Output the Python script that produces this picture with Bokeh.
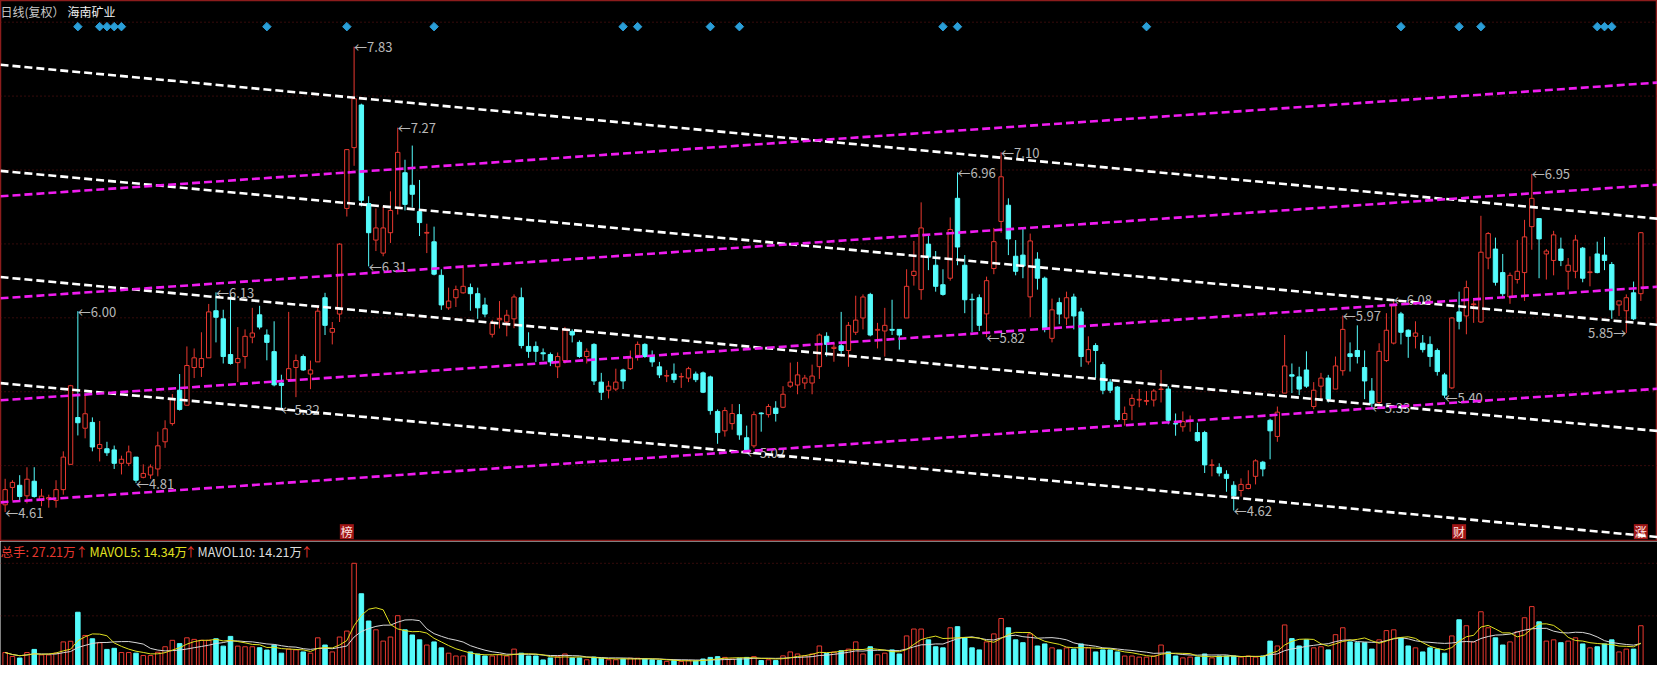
import numpy as np
import pandas as pd
from bokeh.plotting import figure
from bokeh.layouts import column
from bokeh.models import Range1d, Label, Span, ColumnDataSource
from bokeh.core.properties import value
from bokeh.embed import file_html
from bokeh.resources import INLINE

# ---------------- data ----------------
open_ = [4.66,4.78,4.795,4.722,4.823,4.69,4.70,4.69,4.765,4.94,5.264,5.19,5.23,5.05,5.048,5.04,4.947,4.947,4.99,4.85,
 4.866,4.908,5.096,5.222,5.453,5.349,5.61,5.61,5.677,6.003,5.947,5.70,5.644,5.686,5.82,5.975,5.835,5.72,5.503,5.526,
 5.61,5.686,5.565,5.649,6.093,5.854,5.98,6.711,7.132,7.427,6.745,6.492,6.402,6.543,6.711,6.958,6.871,6.689,6.54,6.48,
 6.248,6.023,6.093,6.127,6.163,6.121,6.043,5.84,5.94,5.925,5.947,6.093,5.756,5.756,5.712,5.70,5.615,5.658,5.86,5.784,
 5.686,5.77,5.509,5.453,5.461,5.593,5.602,5.694,5.77,5.691,5.615,5.551,5.565,5.545,5.537,5.565,5.573,5.545,5.306,5.172,
 5.222,5.284,5.124,5.068,5.295,5.284,5.329,5.335,5.481,5.489,5.503,5.503,5.616,5.826,5.742,5.761,5.728,5.854,5.953,6.116,
 5.868,5.863,5.874,5.874,5.953,6.247,6.149,6.464,6.318,6.183,6.228,6.781,6.318,6.082,6.093,5.981,6.295,6.621,6.733,6.38,
 6.388,6.099,6.36,6.228,5.812,6.059,5.953,6.098,5.995,5.649,5.762,5.63,5.509,5.475,5.25,5.349,5.385,5.376,5.385,5.458,
 5.461,5.222,5.2,5.242,5.16,5.16,4.933,4.919,4.871,4.795,4.759,4.773,4.857,4.955,5.245,5.133,5.433,5.56,5.545,5.593,
 5.34,5.481,5.537,5.461,5.588,5.705,5.728,5.61,5.447,5.368,5.658,5.779,5.981,5.868,5.826,5.779,5.77,5.728,5.559,5.469,
 5.995,5.967,6.045,5.925,6.368,6.43,6.267,6.099,6.219,6.267,6.585,6.641,6.396,6.351,6.43,6.276,6.276,6.436,6.267,6.396,
 6.388,6.323,6.043,6.003,6.127,6.121]
high = [4.84,4.83,4.865,4.92,4.92,4.77,4.73,4.83,5.03,5.49,6.00,5.42,5.265,5.24,5.096,5.07,5.0,5.07,4.99,4.94,
 4.94,5.166,5.245,5.427,5.565,5.756,5.742,5.854,6.05,6.13,6.01,6.116,5.89,5.874,6.023,6.037,5.874,5.93,5.56,5.995,
 5.70,5.70,5.658,6.03,6.127,5.925,6.47,7.12,7.83,7.436,6.795,6.711,6.725,6.829,7.27,7.048,7.146,6.908,6.605,6.585,
 6.29,6.163,6.177,6.318,6.191,6.163,6.093,5.94,6.07,6.009,6.116,6.163,5.854,5.79,5.742,5.714,5.714,5.891,5.874,5.798,
 5.742,5.778,5.573,5.517,5.602,5.602,5.728,5.79,5.778,5.728,5.649,5.593,5.638,5.573,5.615,5.582,5.582,5.554,5.32,5.335,
 5.357,5.357,5.208,5.306,5.30,5.357,5.377,5.481,5.644,5.649,5.559,5.63,5.846,5.854,5.78,5.995,5.925,6.107,6.116,6.127,
 5.919,6.023,6.079,5.874,6.29,6.486,6.753,6.52,6.416,6.29,6.649,6.96,6.388,6.121,6.116,6.239,6.576,7.10,6.781,6.492,
 6.57,6.537,6.408,6.239,6.087,6.093,6.135,6.121,6.023,5.826,5.778,5.649,5.53,5.481,5.34,5.425,5.461,5.447,5.461,5.593,
 5.481,5.292,5.306,5.278,5.228,5.172,4.975,4.947,4.899,4.823,4.843,4.899,4.975,4.964,5.256,5.34,5.835,5.638,5.615,5.722,
 5.509,5.573,5.559,5.686,5.97,5.784,5.902,5.728,5.537,5.778,5.986,6.08,5.995,5.874,5.93,5.835,5.826,5.742,5.573,5.958,
 6.135,6.211,6.079,6.66,6.548,6.509,6.396,6.267,6.492,6.632,6.95,6.641,6.43,6.556,6.509,6.368,6.528,6.444,6.379,6.481,
 6.514,6.34,6.071,6.116,6.205,6.548]
low = [4.61,4.69,4.69,4.67,4.71,4.65,4.64,4.64,4.73,4.94,5.14,5.12,5.03,4.96,4.998,4.908,4.87,4.928,4.81,4.843,
 4.84,4.857,5.054,5.208,5.312,5.349,5.537,5.545,5.677,5.784,5.638,5.63,5.51,5.602,5.778,5.874,5.66,5.48,5.32,5.526,
 5.405,5.587,5.46,5.649,5.835,5.77,5.925,6.655,7.006,6.725,6.31,6.416,6.38,6.472,6.669,6.697,6.717,6.52,6.402,6.248,
 6.009,6.009,6.029,6.121,6.003,5.947,5.958,5.818,5.88,5.826,5.882,5.742,5.677,5.649,5.658,5.62,5.537,5.638,5.784,5.677,
 5.638,5.489,5.385,5.396,5.447,5.461,5.593,5.658,5.677,5.615,5.537,5.509,5.503,5.469,5.509,5.509,5.433,5.284,5.082,5.132,
 5.18,5.11,5.02,5.054,5.166,5.264,5.236,5.329,5.469,5.425,5.461,5.425,5.531,5.686,5.65,5.686,5.615,5.835,5.874,5.826,
 5.742,5.686,5.835,5.734,5.953,6.177,6.079,6.284,6.135,6.107,6.211,6.318,5.986,5.854,5.863,5.82,6.256,6.543,6.388,6.248,
 6.228,5.958,6.149,5.854,5.784,5.91,5.902,5.874,5.615,5.63,5.537,5.425,5.433,5.236,5.208,5.245,5.335,5.349,5.34,5.368,
 5.217,5.138,5.166,5.166,5.096,4.88,4.857,4.857,4.75,4.62,4.717,4.767,4.801,4.857,4.975,5.096,5.433,5.433,5.419,5.469,
 5.321,5.391,5.368,5.461,5.554,5.582,5.638,5.391,5.33,5.349,5.649,5.77,5.77,5.677,5.742,5.714,5.615,5.554,5.40,5.461,
 5.874,5.84,5.919,5.919,6.29,6.177,6.088,6.051,6.191,6.071,6.425,6.228,6.219,6.248,6.312,6.149,6.228,6.2,6.172,6.262,
 6.284,5.947,5.967,5.85,5.938,6.071]
close = [4.765,4.815,4.717,4.837,4.717,4.72,4.71,4.765,4.99,5.484,5.228,5.29,5.06,5.077,5.02,4.947,4.975,5.026,4.83,4.877,
 4.922,5.068,5.186,5.39,5.32,5.624,5.677,5.672,5.995,5.958,5.686,5.638,5.672,5.826,5.849,5.89,5.784,5.49,5.486,5.602,
 5.658,5.593,5.593,6.0,5.902,5.88,6.464,7.118,7.47,6.767,6.543,6.576,6.576,6.697,7.099,6.739,6.809,6.613,6.545,6.256,
 6.043,6.07,6.149,6.172,6.121,6.023,5.98,5.919,5.95,5.972,6.098,5.762,5.722,5.722,5.705,5.649,5.686,5.868,5.835,5.686,
 5.722,5.517,5.439,5.481,5.509,5.517,5.677,5.77,5.686,5.649,5.559,5.554,5.526,5.548,5.602,5.526,5.439,5.312,5.16,5.312,
 5.292,5.144,5.04,5.284,5.29,5.34,5.292,5.425,5.509,5.559,5.537,5.551,5.835,5.77,5.75,5.728,5.902,5.938,6.098,5.835,
 5.874,5.902,5.868,5.835,6.172,6.276,6.576,6.374,6.172,6.116,6.565,6.444,6.079,6.079,5.902,6.211,6.481,6.93,6.5,6.276,
 6.312,6.486,6.228,5.874,6.009,5.98,6.093,5.967,5.686,5.734,5.728,5.453,5.453,5.25,5.292,5.396,5.39,5.382,5.447,5.461,
 5.245,5.219,5.236,5.245,5.104,4.936,4.936,4.88,4.843,4.722,4.801,4.801,4.964,4.908,5.172,5.301,5.621,5.55,5.461,5.481,
 5.453,5.537,5.391,5.621,5.874,5.686,5.686,5.517,5.363,5.722,5.868,6.037,5.854,5.826,5.849,5.734,5.686,5.582,5.419,5.953,
 5.93,6.163,6.05,6.408,6.537,6.2,6.121,6.248,6.276,6.514,6.781,6.5,6.416,6.528,6.351,6.318,6.492,6.228,6.272,6.267,
 6.351,6.009,6.071,6.093,5.947,6.543]
# volume, unit: 万手
volume = [10.1,7.6,6.6,10.1,12.1,8.6,8.6,9.7,16.9,17.3,35.8,21.0,18.9,16.3,12.1,12.8,10.1,10.1,9.7,8.2,
 8.2,10.3,13.8,17.9,15.8,19.5,18.5,17.9,17.9,18.9,14.2,20.4,14.2,13.8,13.8,13.2,11.7,14.8,9.7,12.3,
 11.8,10.5,9.7,19.5,14.9,10.5,20.0,23.8,67.0,47.6,30.2,24.6,17.4,20.0,33.6,24.6,21.3,18.2,14.9,16.9,
 13.1,9.7,7.9,7.9,10.5,9.2,7.9,7.9,8.7,7.9,12.3,9.7,7.9,7.9,5.4,6.7,7.5,9.2,6.7,6.7,
 5.5,7.2,6.5,5.5,5.5,6.0,6.5,6.5,6.0,5.5,5.0,4.5,5.0,4.5,5.0,4.8,6.0,7.0,7.5,7.0,
 6.0,6.5,7.0,7.5,5.0,5.5,5.0,8.0,10.5,9.2,8.0,9.2,14.3,9.5,10.5,11.3,12.3,16.9,9.2,13.8,
 8.7,9.7,11.8,9.2,20.7,25.1,25.1,18.2,13.8,13.1,25.9,26.6,19.5,13.1,11.8,16.9,22.0,31.8,25.9,18.2,
 16.4,22.0,14.3,15.6,13.1,11.8,13.1,12.3,15.6,13.1,10.5,11.8,11.8,10.5,7.9,7.9,7.2,7.2,7.9,14.9,
 10.5,7.9,6.7,7.2,7.2,9.2,6.7,7.9,7.9,7.9,7.2,7.9,7.2,7.9,17.4,14.3,27.7,19.0,14.3,18.2,
 13.1,13.8,11.8,21.5,25.9,16.9,16.4,16.4,12.3,18.2,24.1,24.6,19.5,14.3,13.1,10.5,13.1,12.3,9.7,20.7,
 31.0,27.2,16.9,36.1,25.9,19.5,14.9,16.9,23.3,32.3,39.4,29.7,17.4,18.2,16.4,17.4,19.5,15.6,13.1,13.8,
 15.6,18.2,10.5,12.3,12.3,27.21]

# channel lines: price at left edge / right edge of the view
white_left = [7.705, 6.971, 6.236, 5.502]
white_right = [6.640, 5.906, 5.171, 4.437]
magenta_left = [6.795, 6.089, 5.383, 4.677]
magenta_right = [7.582, 6.875, 6.169, 5.463]

# horizontal reference grid (price)
grid_prices = [8.0, 7.4885, 6.977, 6.4655, 5.954, 5.4425, 4.931]

# annotated extremes (candle indices)
high_marks = [10, 29, 48, 54, 131, 137, 184, 191, 210]
low_marks = [0, 18, 38, 50, 102, 135, 169, 188, 198]
low_marks_right = [223]

# event diamonds and tags
diamond_idx = [10, 13, 14, 15, 16, 36, 47, 59, 85, 87, 97, 101, 129, 131, 157, 192, 200, 203, 219, 220, 221]
tag_idx = [47, 200, 225]
tag_text = ["榜", "财", "涨"]

title_a = "日线(复权）"
title_b = "海南矿业"
vol_hdr = ["总手: 27.21万↑", "MAVOL5: 14.34万", "MAVOL10: 14.21万"]

# ---------------- styling ----------------
RED = "#e8382f"
CYAN = "#54fcfc"
GRIDC = "#6a1616"
BORDER = "#8c1c1c"
FONT = "Noto Sans CJK SC"
LABC = "#b8b8b8"

N = len(close)
assert len(open_) == N and len(high) == N and len(low) == N and len(volume) == N
idx = np.arange(N)
o = np.array(open_); h = np.array(high); l = np.array(low); c = np.array(close)
v = np.array(volume)
up = c >= o

W = 1657
H_MAIN = 541
H_VOL = 124
X0, X1 = -0.64, 227.29

xr = Range1d(X0, X1)
p = figure(width=W, height=H_MAIN, x_range=xr, y_range=Range1d(4.406, 8.150),
           output_backend="svg", toolbar_location=None, min_border=0,
           background_fill_color="black", border_fill_color="black",
           outline_line_color=BORDER, outline_line_width=1.5)
p.axis.visible = False
p.grid.visible = False

for gp in grid_prices:
    p.add_layout(Span(location=gp, dimension="width", line_color=GRIDC,
                      line_dash="1 3", line_width=1, level="underlay"))

def candle_src(mask):
    return ColumnDataSource(dict(x=idx[mask], hi=h[mask], lo=l[mask],
                                 top=np.maximum(o, c)[mask], bot=np.minimum(o, c)[mask]))

s_up = candle_src(up)
s_dn = candle_src(~up)
p.segment(x0="x", y0="hi", x1="x", y1="lo", source=s_up, line_color=RED, line_width=1)
p.vbar(x="x", top="top", bottom="bot", width=0.6, source=s_up, fill_color="black", line_color=RED, line_width=1)
p.segment(x0="x", y0="hi", x1="x", y1="lo", source=s_dn, line_color=CYAN, line_width=1)
p.vbar(x="x", top="top", bottom="bot", width=0.6, source=s_dn, fill_color=CYAN, line_color=CYAN, line_width=1)

# extreme labels (drawn under the channel lines)
p.text(x=high_marks, y=[h[i] for i in high_marks], text=["←%.2f" % h[i] for i in high_marks],
       text_font=value(FONT), text_font_size="13px", text_color=LABC,
       text_align="left", text_baseline="middle")
p.text(x=low_marks, y=[l[i] for i in low_marks], text=["←%.2f" % l[i] for i in low_marks],
       text_font=value(FONT), text_font_size="13px", text_color=LABC,
       text_align="left", text_baseline="middle")
p.text(x=low_marks_right, y=[l[i] for i in low_marks_right], text=["%.2f→" % l[i] for i in low_marks_right],
       text_font=value(FONT), text_font_size="13px", text_color=LABC,
       text_align="right", text_baseline="middle")

# tags at bottom
p.rect(x=tag_idx, y=[4.474]*len(tag_idx), width=14, height=15, width_units="screen",
       height_units="screen", fill_color="#a01616", line_color=None)
p.text(x=tag_idx, y=[4.474]*len(tag_idx), text=tag_text, text_font=value(FONT),
       text_font_size="12px", text_color="#ffe6e6", text_align="center", text_baseline="middle")

# channel lines
n_w = len(white_left)
p.segment(x0=[X0]*n_w, y0=white_left, x1=[X1]*n_w, y1=white_right,
          line_color="white", line_width=2.6, line_dash="8 4")
n_m = len(magenta_left)
p.segment(x0=[X0]*n_m, y0=magenta_left, x1=[X1]*n_m, y1=magenta_right,
          line_color="#f01cf0", line_width=2.6, line_dash="8 4")

# diamonds
p.scatter(x=diamond_idx, y=[7.969]*len(diamond_idx), marker="square", angle=np.pi/4,
          size=6, fill_color="#2a9ed8", line_color="#2a9ed8")

p.add_layout(Label(x=0, y=H_MAIN - 11, x_units="screen", y_units="screen", text=title_a,
                   text_font=FONT, text_font_size="12px", text_color="#c8c8c8",
                   text_baseline="middle"))
p.add_layout(Label(x=67, y=H_MAIN - 11, x_units="screen", y_units="screen", text=title_b,
                   text_font=FONT, text_font_size="12px", text_color="#f0f0f0",
                   text_baseline="middle"))

# ---------------- volume panel ----------------
pv = figure(width=W, height=H_VOL, x_range=xr, y_range=Range1d(1.85, 80.9),
            output_backend="svg", toolbar_location=None, min_border=0,
            background_fill_color="black", border_fill_color="black",
            outline_line_color=None)
pv.axis.visible = False
pv.grid.visible = False
vmax = float(v.max())
for gv in [vmax, vmax / 2]:
    pv.add_layout(Span(location=gv, dimension="width", line_color=GRIDC,
                       line_dash="1 3", line_width=1, level="underlay"))

pv.vbar(x=idx[up], top=v[up], bottom=0, width=0.62, fill_color="black", line_color=RED, line_width=1)
pv.vbar(x=idx[~up], top=v[~up], bottom=0, width=0.62, fill_color=CYAN, line_color=CYAN, line_width=1)

ma5 = pd.Series(v).rolling(5, min_periods=1).mean().values
ma10 = pd.Series(v).rolling(10, min_periods=1).mean().values
pv.line(idx, ma10, line_color="#d8d8d8", line_width=1)
pv.line(idx, ma5, line_color="#e0e020", line_width=1)

hy = H_VOL - 10
FS = "12.5px"
pv.add_layout(Label(x=0, y=hy, x_units="screen", y_units="screen", text=vol_hdr[0],
                    text_font=FONT, text_font_size=FS, text_color=RED, text_baseline="middle"))
pv.add_layout(Label(x=89, y=hy, x_units="screen", y_units="screen", text=vol_hdr[1],
                    text_font=FONT, text_font_size=FS, text_color="#e0e020", text_baseline="middle"))
pv.add_layout(Label(x=184, y=hy, x_units="screen", y_units="screen", text="↑",
                    text_font=FONT, text_font_size=FS, text_color=RED, text_baseline="middle"))
pv.add_layout(Label(x=197, y=hy, x_units="screen", y_units="screen", text=vol_hdr[2],
                    text_font=FONT, text_font_size=FS, text_color="#dcdcdc", text_baseline="middle"))
pv.add_layout(Label(x=300, y=hy, x_units="screen", y_units="screen", text="↑",
                    text_font=FONT, text_font_size=FS, text_color=RED, text_baseline="middle"))

layout = column(p, pv, spacing=0)
open("out.html", "w").write(file_html(layout, INLINE))
